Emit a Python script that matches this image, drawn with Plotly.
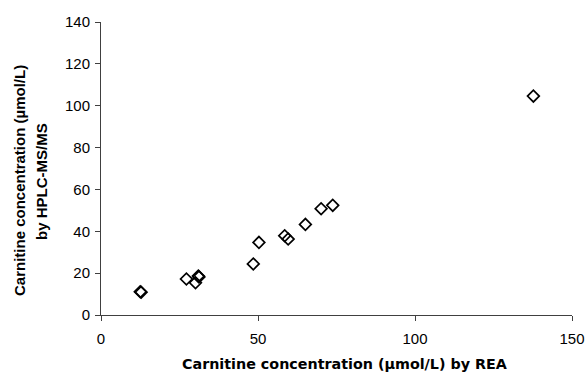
import plotly.graph_objects as go

# Data
rea = [12.5, 12.8, 27.2, 30.1, 31.0, 31.2, 48.5, 50.3, 58.5, 59.6, 65.1, 70.1, 73.8, 137.7]
hplc = [11.1, 10.9, 17.2, 15.4, 18.6, 18.2, 24.4, 34.7, 37.9, 36.3, 43.3, 50.8, 52.4, 104.6]

x_ticks = [0, 50, 100, 150]
y_ticks = [0, 20, 40, 60, 80, 100, 120, 140]

x_title = "Carnitine concentration (µmol/L) by REA"
y_title_1 = "Carnitine concentration (µmol/L)"
y_title_2 = "by HPLC-MS/MS"

L, R, T, B = 101, 15, 22, 59
W, H = 587, 374
PW, PH = W - L - R, H - T - B

fig = go.Figure()
fig.add_trace(go.Scatter(
    x=rea, y=hplc, mode="markers",
    marker=dict(symbol="diamond-open", size=9, color="black",
                line=dict(width=1.7, color="black")),
    showlegend=False,
))

axis_common = dict(
    showgrid=False, zeroline=False, showline=True, automargin=False,
    linecolor="#404040", linewidth=1,
    ticks="outside", ticklen=5, tickcolor="#404040", tickwidth=1,
    tickfont=dict(family="Liberation Sans, Arial", size=15, color="black"),
)

def px_x(px):
    return (px - L) / PW

def px_y(py):
    return (H - B - py) / PH

title_font = dict(family="Liberation Sans, Arial", size=15, color="black")

fig.update_layout(
    width=W, height=H,
    margin=dict(l=L, r=R, t=T, b=B),
    paper_bgcolor="white", plot_bgcolor="white",
    font=dict(family="Liberation Sans, Arial", color="black"),
    xaxis=dict(range=[0, 150], tickvals=x_ticks, ticklabelstandoff=5, **axis_common),
    yaxis=dict(range=[0, 140], tickvals=y_ticks, ticklabelstandoff=2, **axis_common),
    annotations=[
        dict(text="<b>" + x_title + "</b>", xref="paper", yref="paper",
             x=px_x(344), y=px_y(364), xanchor="center", yanchor="middle",
             showarrow=False,
             font=dict(family="DejaVu Sans", size=14.3, color="black")),
        dict(text="<b>" + y_title_1 + "</b>", xref="paper", yref="paper",
             x=px_x(19), y=px_y(181), xanchor="center", yanchor="middle",
             textangle=-90, showarrow=False, font=title_font),
        dict(text="<b>" + y_title_2 + "</b>", xref="paper", yref="paper",
             x=px_x(41), y=px_y(182), xanchor="center", yanchor="middle",
             textangle=-90, showarrow=False, font=title_font),
    ],
)

fig.write_html("out.html")
